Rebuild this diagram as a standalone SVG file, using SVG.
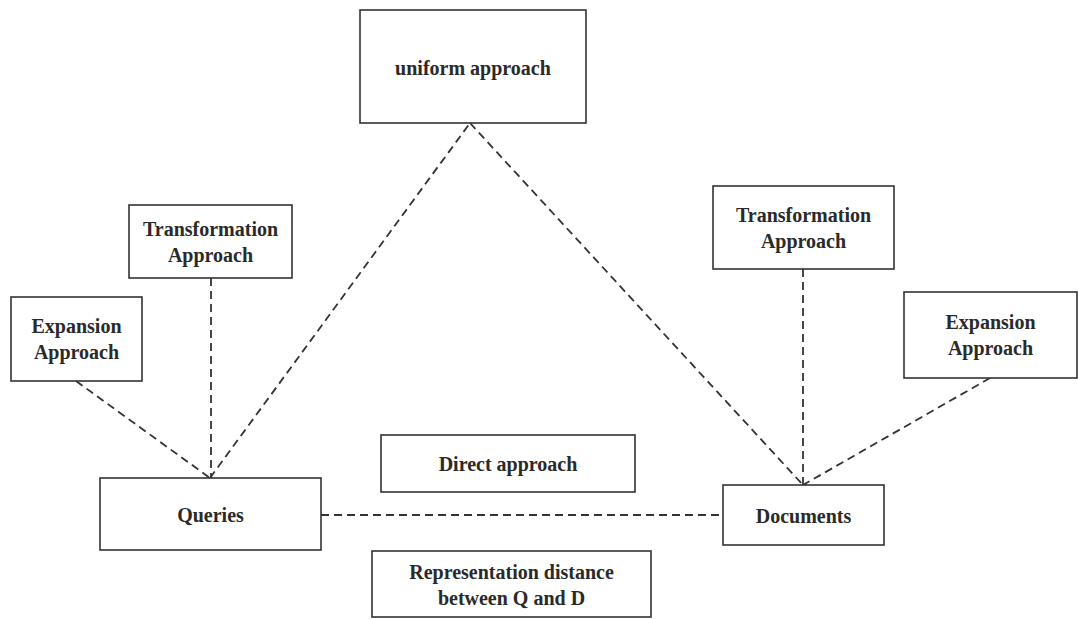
<svg xmlns="http://www.w3.org/2000/svg" width="1078" height="619" viewBox="0 0 1078 619">
<style>
.box{fill:#fff;stroke:#333;stroke-width:1.6}
.t{font-family:"Liberation Serif","Times New Roman",serif;font-weight:bold;font-size:20px;fill:#2a2a2a;text-anchor:middle}
.c{stroke:#333;stroke-width:1.8;stroke-dasharray:8 5;fill:none}
</style>
<rect width="1078" height="619" fill="#fff"/>
<g id="connectors">
<line class="c" x1="210" y1="478" x2="470" y2="123"/>
<line class="c" x1="470" y1="123" x2="803" y2="485"/>
<line class="c" x1="211" y1="278" x2="211" y2="478"/>
<line class="c" x1="76" y1="381" x2="210" y2="478"/>
<line class="c" x1="803" y1="269" x2="803" y2="485"/>
<line class="c" x1="990" y1="378" x2="803" y2="485"/>
<line class="c" x1="321" y1="515" x2="723" y2="515"/>
</g>
<g id="uniform"><rect class="box" x="360" y="10" width="226" height="113"/><text class="t" x="473" y="75">uniform approach</text></g>
<g id="transL"><rect class="box" x="129" y="205" width="163" height="73"/><text class="t" x="210.5" y="236">Transformation</text><text class="t" x="210.5" y="262">Approach</text></g>
<g id="expL"><rect class="box" x="11" y="297" width="131" height="84"/><text class="t" x="76.5" y="333">Expansion</text><text class="t" x="76.5" y="359">Approach</text></g>
<g id="queries"><rect class="box" x="100" y="478" width="221" height="72"/><text class="t" x="210.5" y="522">Queries</text></g>
<g id="direct"><rect class="box" x="381" y="435" width="254" height="57"/><text class="t" x="508" y="471">Direct approach</text></g>
<g id="repr"><rect class="box" x="372" y="551" width="279" height="66"/><text class="t" x="511.5" y="579">Representation distance</text><text class="t" x="511.5" y="605">between Q and D</text></g>
<g id="documents"><rect class="box" x="723" y="485" width="161" height="60"/><text class="t" x="803.5" y="523">Documents</text></g>
<g id="transR"><rect class="box" x="713" y="186" width="181" height="83"/><text class="t" x="803.5" y="222">Transformation</text><text class="t" x="803.5" y="248">Approach</text></g>
<g id="expR"><rect class="box" x="904" y="292" width="173" height="86"/><text class="t" x="990.5" y="329">Expansion</text><text class="t" x="990.5" y="355">Approach</text></g>
</svg>
